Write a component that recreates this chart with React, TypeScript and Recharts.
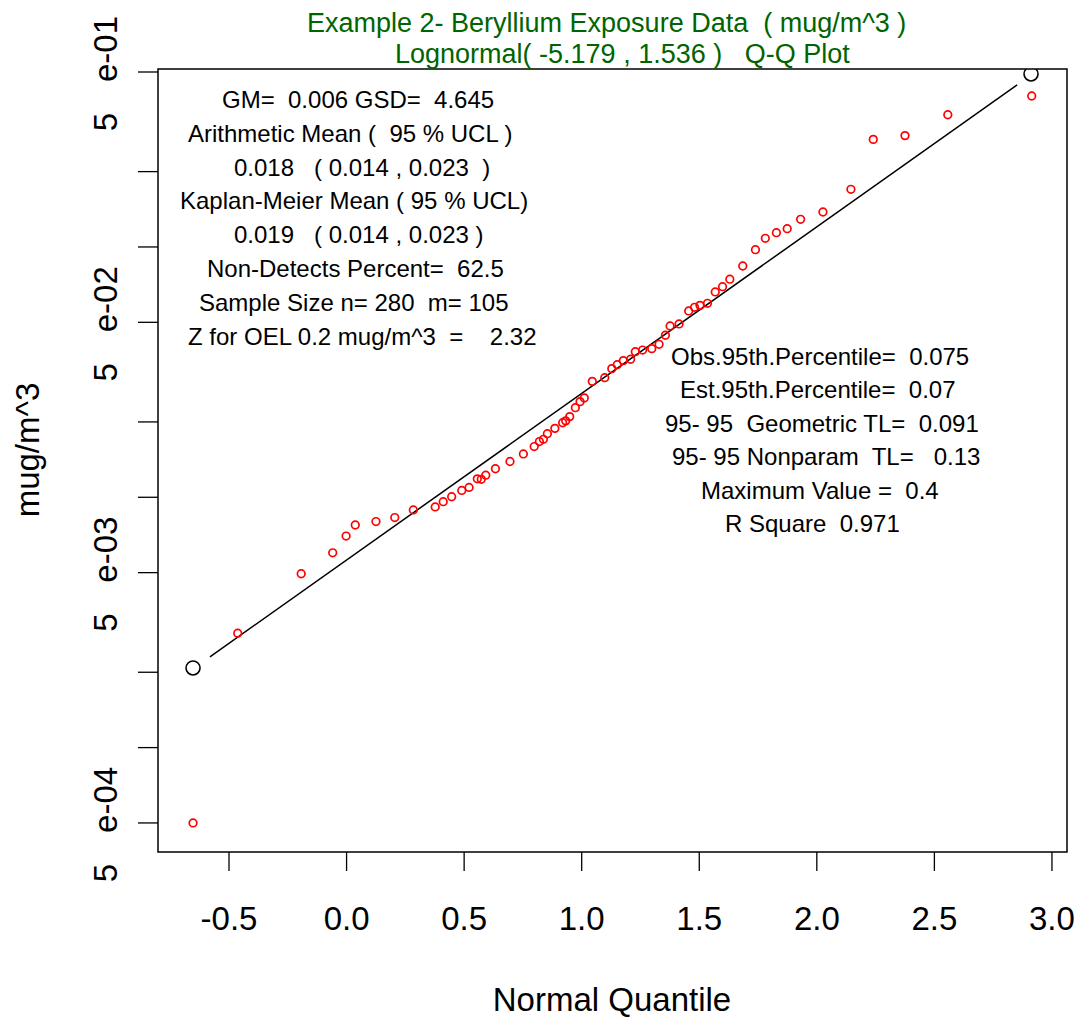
import React from 'react';
import { ScatterChart, Scatter, XAxis, YAxis, ReferenceArea } from 'recharts';

// Normal quantiles (x) and concentrations in mug/m^3 (y)
const quantiles = [-0.653, -0.463, -0.193, -0.059, -0.002, 0.037, 0.125, 0.205, 0.284, 0.377, 0.411, 0.447, 0.49, 0.521, 0.556, 0.573, 0.592, 0.633, 0.695, 0.752, 0.798, 0.82, 0.837, 0.854, 0.886, 0.919, 0.932, 0.949, 0.973, 0.993, 1.011, 1.045, 1.098, 1.128, 1.151, 1.177, 1.208, 1.228, 1.259, 1.298, 1.329, 1.356, 1.376, 1.414, 1.455, 1.48, 1.503, 1.535, 1.568, 1.599, 1.63, 1.685, 1.739, 1.781, 1.828, 1.874, 1.931, 2.026, 2.145, 2.24, 2.375, 2.557, 2.914];
const concentrations = [0.0001, 0.000573, 0.00099, 0.0012, 0.0014, 0.00155, 0.0016, 0.00166, 0.00178, 0.00183, 0.00192, 0.00201, 0.00213, 0.00219, 0.00237, 0.00236, 0.00245, 0.0026, 0.00278, 0.00298, 0.00319, 0.00334, 0.00341, 0.00359, 0.00377, 0.00397, 0.00404, 0.0042, 0.00456, 0.00482, 0.00499, 0.00581, 0.00601, 0.00653, 0.00677, 0.00703, 0.00712, 0.00763, 0.00775, 0.00785, 0.00817, 0.00888, 0.00967, 0.00985, 0.0111, 0.01148, 0.01169, 0.01191, 0.01322, 0.01388, 0.01487, 0.01679, 0.0195, 0.02166, 0.0228, 0.02366, 0.0258, 0.02759, 0.034, 0.0538, 0.0557, 0.0675, 0.0802];

// Fitted lognormal reference line
const fitLineX = [-0.581, 2.852];
const fitLineY = [0.000461, 0.0888];

// Large black open circles at the ends of the fit
const endCircleX = [-0.653, 2.911];
const endCircleY = [0.000416, 0.0982];

const xDomain = [-0.802, 3.064];
const yDomain = [7.655e-5, 0.1028];

const xTicks = [-0.5, 0, 0.5, 1, 1.5, 2, 2.5, 3];
const xTickLabels = ['-0.5', '0.0', '0.5', '1.0', '1.5', '2.0', '2.5', '3.0'];

const yTicks = [0.1, 0.04, 0.02, 0.01, 0.004, 0.002, 0.001, 0.0004, 0.0002, 0.0001];
const yDecadeLabels: Record<string, string> = { '0.1': 'e-01', '0.01': 'e-02', '0.001': 'e-03', '0.0001': 'e-04' };
const yMantissaLabel = '5';

const titleLines = ['Example 2- Beryllium Exposure Data  ( mug/m^3 )', 'Lognormal( -5.179 , 1.536 )   Q-Q Plot'];
const leftStats = [
  'GM=  0.006 GSD=  4.645',
  'Arithmetic Mean (  95 % UCL )',
  '0.018   ( 0.014 , 0.023  )',
  'Kaplan-Meier Mean ( 95 % UCL)',
  '0.019   ( 0.014 , 0.023 )',
  'Non-Detects Percent=  62.5',
  'Sample Size n= 280  m= 105',
  'Z for OEL 0.2 mug/m^3  =    2.32',
];
const leftStatsX = [222, 188, 234, 180, 234, 207, 199, 188];
const rightStats = [
  'Obs.95th.Percentile=  0.075',
  'Est.95th.Percentile=  0.07',
  '95- 95  Geometric TL=  0.091',
  '95- 95 Nonparam  TL=   0.13',
  'Maximum Value =  0.4',
  'R Square  0.971',
];
const rightStatsX = [671, 680, 665, 672, 701, 725];

const FONT = '"Liberation Sans", Arial, Helvetica, sans-serif';

const points = quantiles.map((x, i) => ({ x, y: concentrations[i] }));
const lineData = fitLineX.map((x, i) => ({ x, y: fitLineY[i] }));
const endData = endCircleX.map((x, i) => ({ x, y: endCircleY[i] }));

const XTick = (props: any) => {
  const { x, y, payload } = props;
  const idx = xTicks.indexOf(payload.value);
  return (
    <text x={x} y={y + 57} textAnchor="middle" fontFamily={FONT} fontSize={33} fill="#000">
      {xTickLabels[idx]}
    </text>
  );
};

const YTick = (props: any) => {
  const { x, y, payload } = props;
  const lab = yDecadeLabels[String(payload.value)];
  if (!lab) return <g />;
  const bx = x - 19;
  return (
    <g>
      <text x={bx} y={y + 10} transform={`rotate(-90, ${bx}, ${y + 10})`} textAnchor="start" fontFamily={FONT} fontSize={33} fill="#000">
        {lab}
      </text>
      <text x={bx} y={y + 50} transform={`rotate(-90, ${bx}, ${y + 50})`} textAnchor="middle" fontFamily={FONT} fontSize={33} fill="#000">
        {yMantissaLabel}
      </text>
    </g>
  );
};

const RedCircle = (props: any) => (
  <circle cx={props.cx} cy={props.cy} r={3.8} fill="none" stroke="#ff0000" strokeWidth={1.7} />
);
const BlackCircle = (props: any) => (
  <circle cx={props.cx} cy={props.cy} r={7} fill="none" stroke="#000" strokeWidth={1.6} />
);
const NoShape = () => <g />;

const pre: React.CSSProperties = { whiteSpace: 'pre' };

export default function App() {
  return (
    <div style={{ position: 'absolute', left: 0, top: 0, width: 1083, height: 1020, background: '#fff' }}>
      <ScatterChart width={1083} height={1020} margin={{ top: 69, right: 16, left: 0, bottom: 0 }}>
        <XAxis
          type="number"
          dataKey="x"
          domain={xDomain}
          allowDataOverflow
          ticks={xTicks}
          interval={0}
          tickSize={19}
          height={168}
          axisLine={false}
          tickLine={{ stroke: '#000', strokeWidth: 1.3 }}
          tick={<XTick />}
        />
        <YAxis
          type="number"
          dataKey="y"
          scale="log"
          domain={yDomain}
          allowDataOverflow
          ticks={yTicks}
          interval={0}
          tickSize={20}
          width={158}
          axisLine={false}
          tickLine={{ stroke: '#000', strokeWidth: 1.3 }}
          tick={<YTick />}
        />
        <ReferenceArea
          x1={xDomain[0]}
          x2={xDomain[1]}
          y1={yDomain[0]}
          y2={yDomain[1]}
          fill="none"
          fillOpacity={0}
          stroke="#000"
          strokeWidth={1.5}
          ifOverflow="visible"
        />
        <Scatter data={lineData} line={{ stroke: '#000', strokeWidth: 1.5 }} shape={<NoShape />} isAnimationActive={false} />
        <Scatter data={points} shape={<RedCircle />} isAnimationActive={false} />
        <Scatter data={endData} shape={<BlackCircle />} isAnimationActive={false} />
      </ScatterChart>
      <svg width={1083} height={1020} style={{ position: 'absolute', left: 0, top: 0, pointerEvents: 'none' }}>
        <text x={307} y={32} fontFamily={FONT} fontSize={27} fill="#006400" xmlSpace="preserve" style={pre}>{titleLines[0]}</text>
        <text x={395} y={63} fontFamily={FONT} fontSize={27} fill="#006400" xmlSpace="preserve" style={pre}>{titleLines[1]}</text>
        {leftStats.map((s, i) => (
          <text key={'l' + i} x={leftStatsX[i]} y={108 + i * 33.8} fontFamily={FONT} fontSize={24} fill="#000" xmlSpace="preserve" style={pre}>{s}</text>
        ))}
        {rightStats.map((s, i) => (
          <text key={'r' + i} x={rightStatsX[i]} y={365 + i * 33.4} fontFamily={FONT} fontSize={24} fill="#000" xmlSpace="preserve" style={pre}>{s}</text>
        ))}
        <text x={612} y={1011} textAnchor="middle" fontFamily={FONT} fontSize={33} fill="#000">Normal Quantile</text>
        <text x={39} y={450} transform="rotate(-90, 39, 450)" textAnchor="middle" fontFamily={FONT} fontSize={33} fill="#000">mug/m^3</text>
      </svg>
    </div>
  );
}
